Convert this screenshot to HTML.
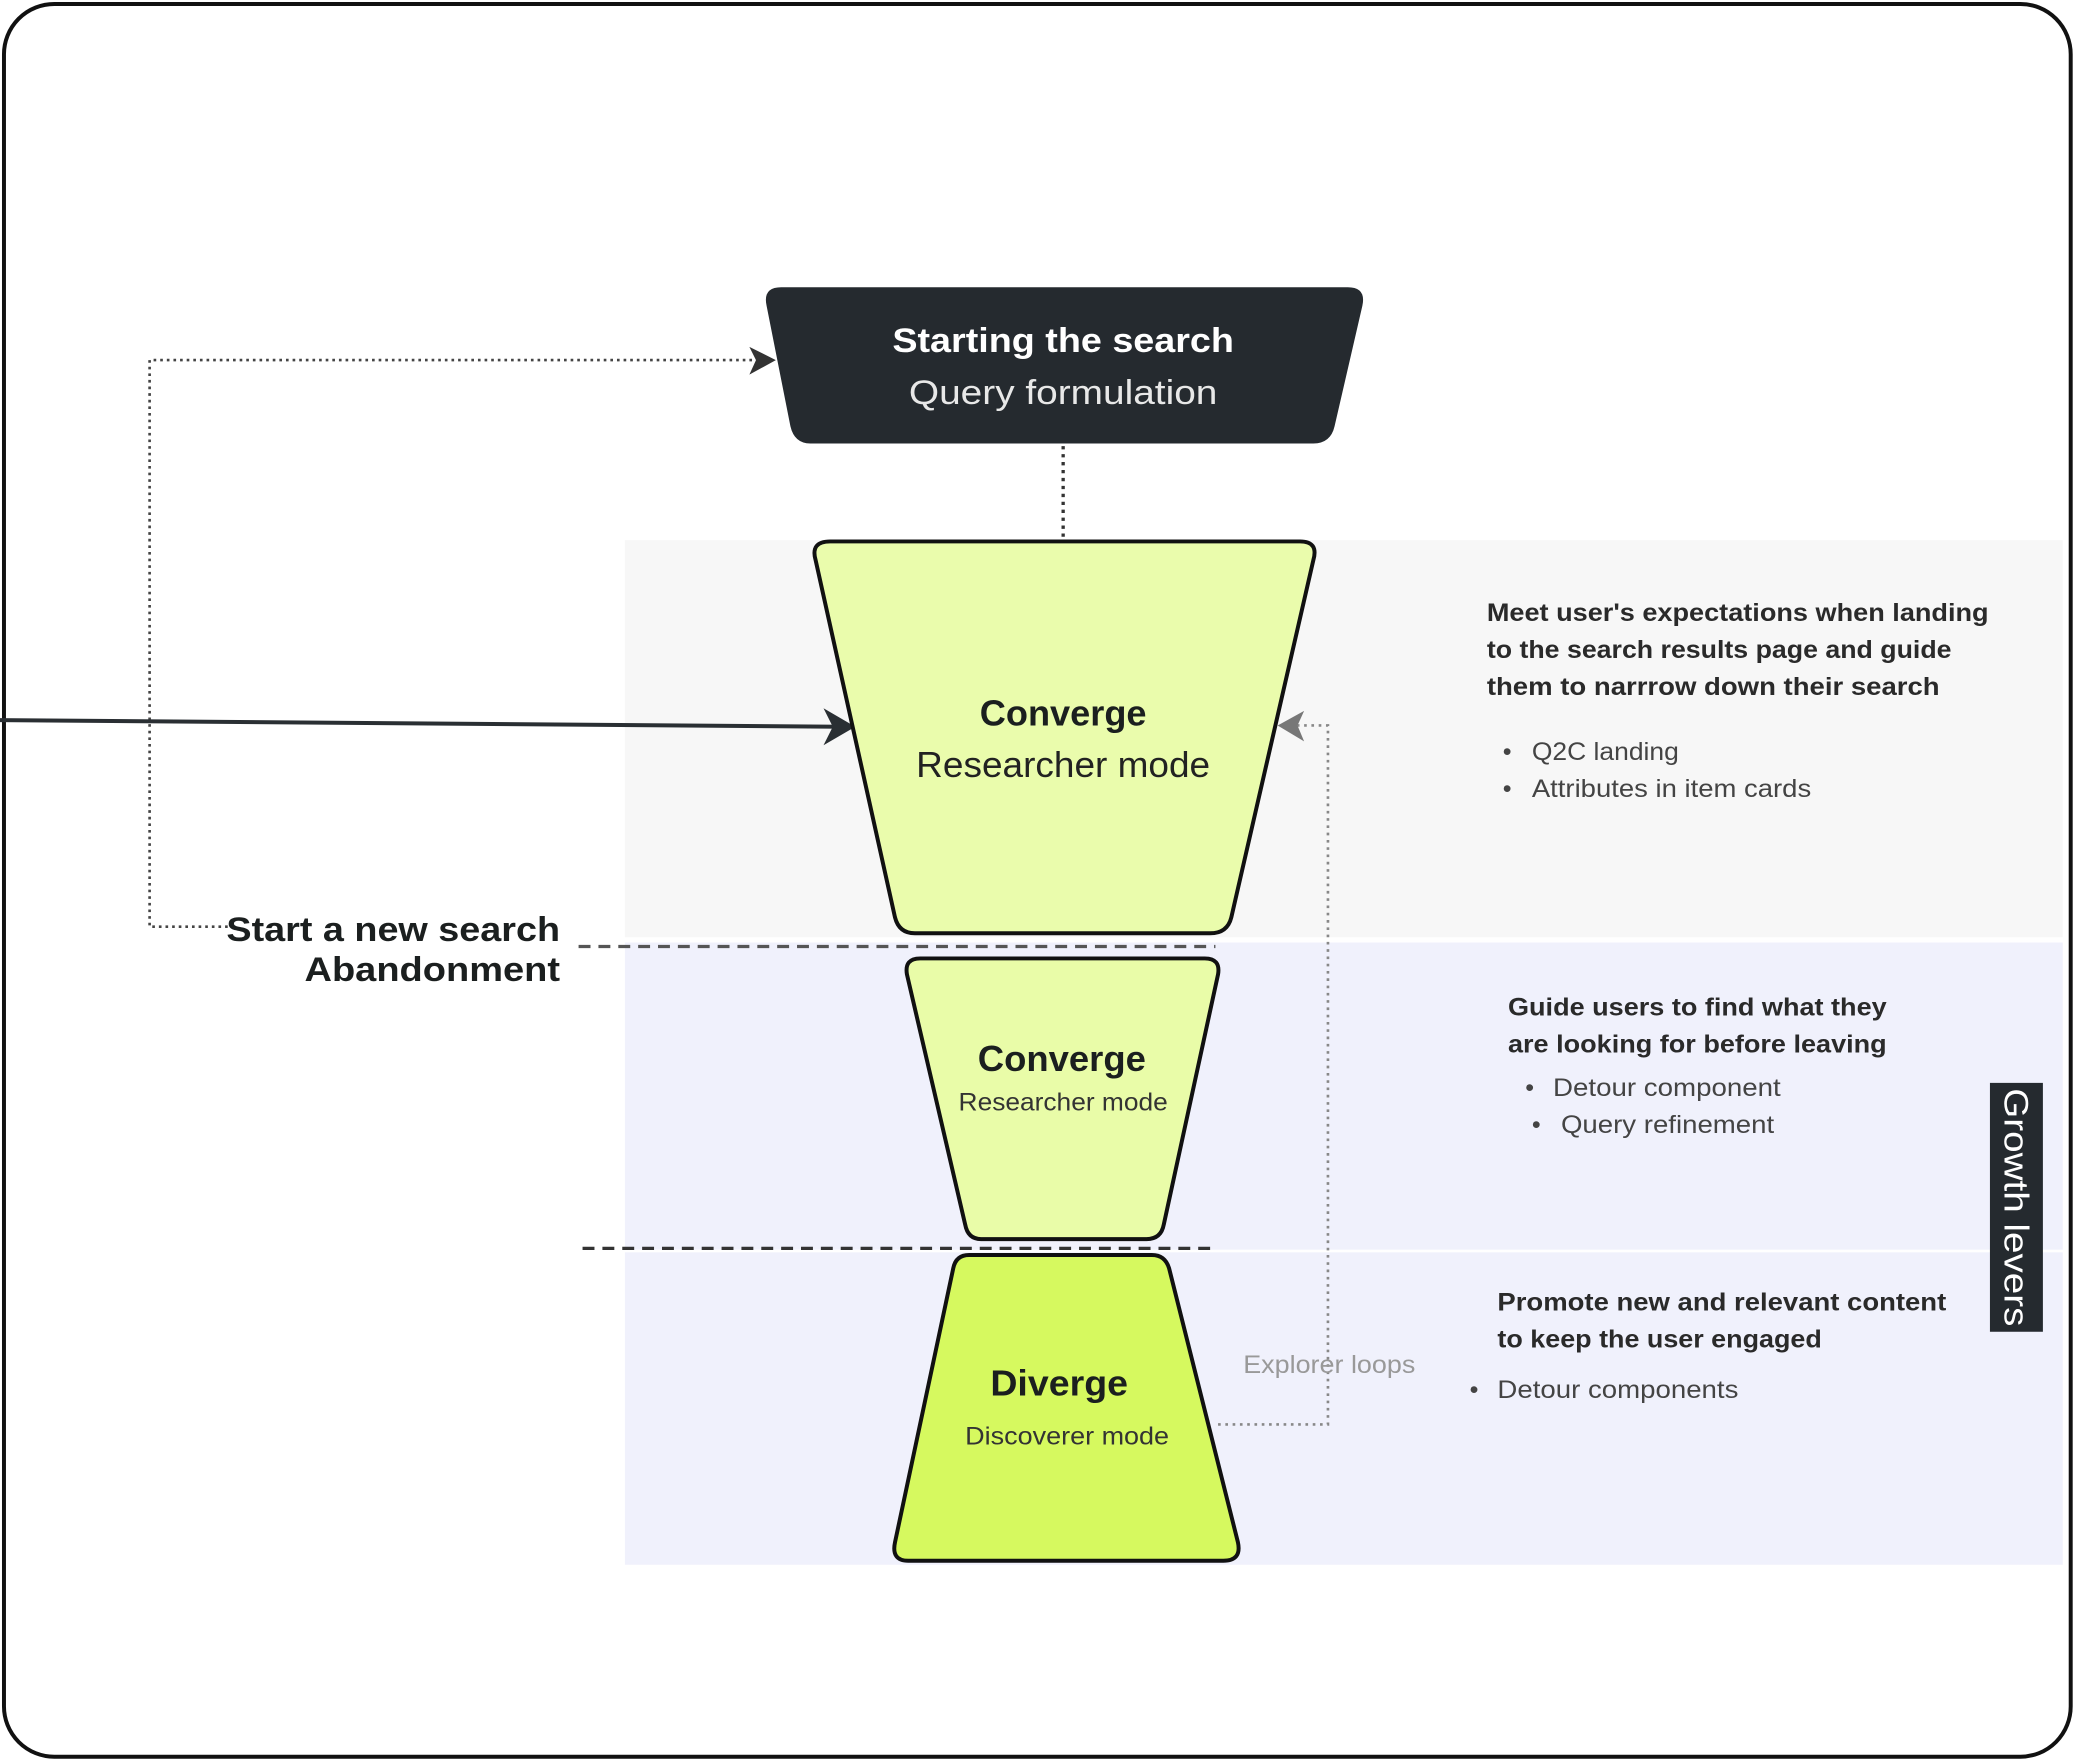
<!DOCTYPE html>
<html><head><meta charset="utf-8"><style>html,body{margin:0;padding:0;background:#fff}svg{display:block}</style></head>
<body>
<svg width="2076" height="1762" viewBox="0 0 1568 1331" preserveAspectRatio="none" xmlns="http://www.w3.org/2000/svg" font-family="'Liberation Sans', sans-serif">
<rect x="0" y="0" width="1568" height="1331" fill="#fff"/>
<rect x="472" y="408" width="1086" height="300" fill="#f7f7f7"/>
<rect x="472" y="712" width="1086" height="232" fill="#f0f1fc"/>
<rect x="472" y="946" width="1086" height="236" fill="#f0f1fc"/>
<rect x="3" y="3" width="1561" height="1324" rx="38" fill="none" stroke="#111" stroke-width="3"/>

<!-- connectors -->
<line x1="803" y1="337" x2="803" y2="408" stroke="#333" stroke-width="2.5" stroke-dasharray="2.5 3.5"/>
<polyline points="172,700 113,700 113,272 575,272" fill="none" stroke="#444" stroke-width="2" stroke-dasharray="2 3"/>
<path d="M566,262 L586,272 L566,283 L571,272 Z" fill="#333"/>
<line x1="0" y1="544" x2="635" y2="549" stroke="#2a2f33" stroke-width="3"/>
<path d="M622,535 L646,549 L622,563 L629,549 Z" fill="#2a2f33"/>
<polyline points="920,1076 1003,1076 1003,548 975,548" fill="none" stroke="#888" stroke-width="2" stroke-dasharray="2 3.5"/>
<path d="M985,537 L965,548 L985,560 L980,548 Z" fill="#777"/>
<line x1="437" y1="715" x2="918" y2="715" stroke="#555" stroke-width="2.5" stroke-dasharray="9 6"/>
<line x1="440" y1="943" x2="920" y2="943" stroke="#333" stroke-width="2.5" stroke-dasharray="9 6"/>

<!-- dark box -->
<path d="M590,217 L1018,217 Q1032,217 1029,231 L1008,322 Q1005,335 992,335 L612,335 Q600,335 597,322 L579,231 Q576,217 590,217 Z" fill="#252a2f"/>
<text x="803" y="266" font-size="26" font-weight="bold" fill="#fff" text-anchor="middle" textLength="258" lengthAdjust="spacingAndGlyphs">Starting the search</text>
<text x="803" y="305" font-size="26" fill="#e8e8e8" text-anchor="middle" textLength="233" lengthAdjust="spacingAndGlyphs">Query formulation</text>

<!-- funnel shapes -->
<path d="M627,409 L982,409 Q996,409 992,423 L930,693 Q927,705 914,705 L691,705 Q679,705 676,693 L616,423 Q612,409 627,409 Z" fill="#eafcac" stroke="#111" stroke-width="3" stroke-linejoin="round"/>
<text x="803" y="548" font-size="27" font-weight="bold" fill="#1b1f1f" text-anchor="middle" textLength="126" lengthAdjust="spacingAndGlyphs">Converge</text>
<text x="803" y="587" font-size="27" fill="#222" text-anchor="middle" textLength="222" lengthAdjust="spacingAndGlyphs">Researcher mode</text>

<path d="M695,724 L910,724 Q922,724 920,736 L879,925 Q877,936 866,936 L741,936 Q731,936 729,925 L685,736 Q683,724 695,724 Z" fill="#e9fca8" stroke="#111" stroke-width="3" stroke-linejoin="round"/>
<text x="802" y="809" font-size="27" font-weight="bold" fill="#1b1f1f" text-anchor="middle" textLength="127" lengthAdjust="spacingAndGlyphs">Converge</text>
<text x="803" y="839" font-size="19" fill="#333" text-anchor="middle" textLength="158" lengthAdjust="spacingAndGlyphs">Researcher mode</text>

<path d="M732,948 L870,948 Q880,948 883,958 L935,1165 Q938,1179 924,1179 L686,1179 Q673,1179 676,1165 L720,958 Q722,948 732,948 Z" fill="#d6f95f" stroke="#111" stroke-width="3" stroke-linejoin="round"/>
<text x="800" y="1054" font-size="27" font-weight="bold" fill="#1b1f1f" text-anchor="middle" textLength="104" lengthAdjust="spacingAndGlyphs">Diverge</text>
<text x="806" y="1091" font-size="19" fill="#333" text-anchor="middle" textLength="154" lengthAdjust="spacingAndGlyphs">Discoverer mode</text>

<text x="1004" y="1037" font-size="19" fill="#999" text-anchor="middle" textLength="130" lengthAdjust="spacingAndGlyphs">Explorer loops</text>

<text x="423" y="711" font-size="26" font-weight="bold" fill="#1b1f1f" text-anchor="end" textLength="252" lengthAdjust="spacingAndGlyphs">Start a new search</text>
<text x="423" y="741" font-size="26" font-weight="bold" fill="#1b1f1f" text-anchor="end" textLength="193" lengthAdjust="spacingAndGlyphs">Abandonment</text>

<g font-size="19" fill="#2a2a2a">
<text x="1123" y="469" font-weight="bold" textLength="379" lengthAdjust="spacingAndGlyphs">Meet user's expectations when landing</text>
<text x="1123" y="497" font-weight="bold" textLength="351" lengthAdjust="spacingAndGlyphs">to the search results page and guide</text>
<text x="1123" y="525" font-weight="bold" textLength="342" lengthAdjust="spacingAndGlyphs">them to narrrow down their search</text>
<text x="1135" y="574" fill="#444">•</text><text x="1157" y="574" fill="#444" textLength="111" lengthAdjust="spacingAndGlyphs">Q2C landing</text>
<text x="1135" y="602" fill="#444">•</text><text x="1157" y="602" fill="#444" textLength="211" lengthAdjust="spacingAndGlyphs">Attributes in item cards</text>

<text x="1139" y="767" font-weight="bold" textLength="286" lengthAdjust="spacingAndGlyphs">Guide users to find what they</text>
<text x="1139" y="795" font-weight="bold" textLength="286" lengthAdjust="spacingAndGlyphs">are looking for before leaving</text>
<text x="1152" y="828" fill="#444">•</text><text x="1173" y="828" fill="#444" textLength="172" lengthAdjust="spacingAndGlyphs">Detour component</text>
<text x="1157" y="856" fill="#444">•</text><text x="1179" y="856" fill="#444" textLength="161" lengthAdjust="spacingAndGlyphs">Query refinement</text>

<text x="1131" y="990" font-weight="bold" textLength="339" lengthAdjust="spacingAndGlyphs">Promote new and relevant content</text>
<text x="1131" y="1018" font-weight="bold" textLength="245" lengthAdjust="spacingAndGlyphs">to keep the user engaged</text>
<text x="1110" y="1056" fill="#444">•</text><text x="1131" y="1056" fill="#444" textLength="182" lengthAdjust="spacingAndGlyphs">Detour components</text>
</g>

<rect x="1503" y="818" width="40" height="188" fill="#252a2f"/>
<text transform="translate(1514,912) rotate(90)" font-size="26" fill="#fff" text-anchor="middle" textLength="180" lengthAdjust="spacingAndGlyphs">Growth levers</text>
</svg>
</body></html>
